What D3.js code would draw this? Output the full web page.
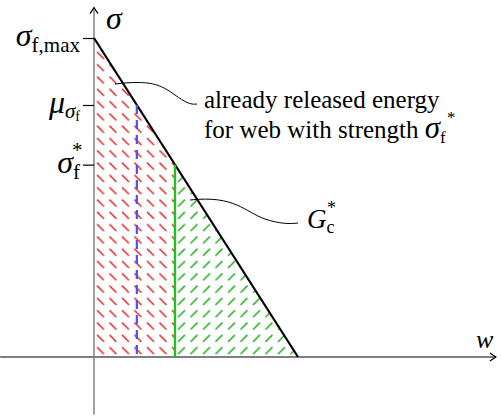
<!DOCTYPE html>
<html>
<head>
<meta charset="utf-8">
<script src="https://cdn.jsdelivr.net/npm/d3@7"></script>
</head>
<body style="margin:0; background:#fff">
<svg width="502" height="416"></svg>
<script>
// data: stress vs. opening, linear softening
var sigmaMax = 1.0;
var wCrit = 1.0;
var muSigma = 0.79;     // mean strength
var sigmaStar = 0.603;  // strength of this web
var softening = [ { w: 0, s: sigmaMax }, { w: wCrit, s: 0 } ];

var svg = d3.select("svg");
var serif = "'Liberation Serif'";

var x = d3.scaleLinear().domain([0, 1]).range([94, 298]);
var y = d3.scaleLinear().domain([0, 1]).range([357, 38]);

function sigmaAt(w) { return sigmaMax * (1 - w / wCrit); }
function wAt(s) { return wCrit * (1 - s / sigmaMax); }

var wMu = wAt(muSigma), wStar = wAt(sigmaStar);

// hatch patterns
var defs = svg.append("defs");
var pr = defs.append("pattern").attr("id", "hatchRed")
  .attr("patternUnits", "userSpaceOnUse").attr("width", 12.5).attr("height", 12.3)
  .attr("x", 94).attr("y", 357);
pr.append("line").attr("x1", 3).attr("y1", 2.5).attr("x2", 10).attr("y2", 9.5)
  .attr("stroke", "#e02a2a").attr("stroke-width", 1.5);
var pg = defs.append("pattern").attr("id", "hatchGreen")
  .attr("patternUnits", "userSpaceOnUse").attr("width", 12.5).attr("height", 12.3)
  .attr("x", 175).attr("y", 357);
pg.append("line").attr("x1", 3).attr("y1", 9.5).attr("x2", 10).attr("y2", 2.5)
  .attr("stroke", "#1fae1f").attr("stroke-width", 1.5);

var area = d3.area().x(function(d) { return x(d.w); })
  .y0(y(0)).y1(function(d) { return y(sigmaAt(d.w)); });

svg.append("path").datum([{ w: 0 }, { w: wStar }])
  .attr("d", area).attr("fill", "url(#hatchRed)");
svg.append("path").datum([{ w: wStar }, { w: wCrit }])
  .attr("d", area).attr("fill", "url(#hatchGreen)");

// axes
svg.append("line").attr("x1", x(-0.46)).attr("x2", x(1.97))
  .attr("y1", y(0)).attr("y2", y(0))
  .attr("stroke", "#000").attr("stroke-width", 1.2);
svg.append("path").attr("d", "M" + (x(1.97) - 6) + "," + (y(0) - 4) + " L" + x(1.97) + "," + y(0) + " L" + (x(1.97) - 6) + "," + (y(0) + 4))
  .attr("fill", "none").attr("stroke", "#000").attr("stroke-width", 1.2);

svg.append("line").attr("x1", x(0)).attr("x2", x(0))
  .attr("y1", y(-0.18)).attr("y2", y(1.095))
  .attr("stroke", "#777").attr("stroke-width", 1.4);
svg.append("path").attr("d", "M" + (x(0) - 4) + "," + (y(1.095) + 6) + " L" + x(0) + "," + y(1.095) + " L" + (x(0) + 4) + "," + (y(1.095) + 6))
  .attr("fill", "none").attr("stroke", "#000").attr("stroke-width", 1.2);

var yAxis = d3.axisLeft(y).tickValues([sigmaMax, muSigma, sigmaStar])
  .tickSize(11).tickSizeOuter(0).tickFormat("");
var gy = svg.append("g").attr("transform", "translate(" + x(0) + ",0)").call(yAxis);
gy.select(".domain").remove();
gy.selectAll(".tick line").attr("stroke", "#000").attr("stroke-width", 1.2);

// tick labels
function label(yy, main, sub) {
  var t = svg.append("text").attr("x", 80).attr("y", yy + 8)
    .style("font-family", serif).attr("text-anchor", "end").attr("font-size", 32);
  t.append("tspan").attr("font-style", "italic").text(main);
  t.append("tspan").attr("font-size", 21).attr("dy", 6).text(sub);
  return t;
}
label(y(sigmaMax), "σ", "f,max");
var tm = svg.append("text").attr("x", 80).attr("y", y(muSigma) + 8)
  .style("font-family", serif).attr("text-anchor", "end").attr("font-size", 32);
tm.append("tspan").attr("font-style", "italic").text("μ");
tm.append("tspan").attr("font-style", "italic").attr("font-size", 21).attr("dy", 5).text("σ");
tm.append("tspan").attr("font-size", 14).attr("dy", 3).text("f");
label(y(sigmaStar), "σ", "f");
svg.append("text").attr("x", 72).attr("y", y(sigmaStar) - 8)
  .style("font-family", serif).attr("font-size", 21).text("*");

// axis labels
svg.append("text").attr("x", 106).attr("y", 29).attr("font-size", 32)
  .style("font-family", serif).attr("font-style", "italic").text("σ");
svg.append("text").attr("x", 476).attr("y", 348).attr("font-size", 26)
  .style("font-family", serif).attr("font-style", "italic").text("w");

// softening line
var line = d3.line().x(function(d) { return x(d.w); }).y(function(d) { return y(d.s); });
svg.append("path").datum(softening).attr("d", line)
  .attr("fill", "none").attr("stroke", "#000").attr("stroke-width", 2.2);

// mean strength (dashed blue) and this web (green)
svg.append("line").attr("x1", x(wMu)).attr("x2", x(wMu))
  .attr("y1", y(muSigma)).attr("y2", y(0))
  .attr("stroke", "#5050f0").attr("stroke-width", 2.2).attr("stroke-dasharray", "9,6");
svg.append("line").attr("x1", x(wStar)).attr("x2", x(wStar))
  .attr("y1", y(sigmaStar)).attr("y2", y(0))
  .attr("stroke", "#22c022").attr("stroke-width", 2.4);

// annotations
var curve1 = "M115,84 C150,80 160,84 175,95 C185,102 190,105 197,104";
svg.append("path").attr("d", curve1).attr("fill", "none").attr("stroke", "#000").attr("stroke-width", 1);
var curve2 = "M190,200 C235,195 245,212 265,219 C280,224 290,224 298,223";
svg.append("path").attr("d", curve2).attr("fill", "none").attr("stroke", "#000").attr("stroke-width", 1);

svg.append("text").attr("x", 204).attr("y", 108).style("font-family", serif)
  .attr("font-size", 25).text("already released energy");
var t2 = svg.append("text").attr("x", 204).attr("y", 138).style("font-family", serif).attr("font-size", 25);
t2.append("tspan").text("for web with strength ");
t2.append("tspan").attr("font-style", "italic").attr("font-size", 31).text("σ");
t2.append("tspan").attr("font-size", 17).attr("dy", 5).text("f");
svg.append("text").attr("x", 447).attr("y", 123).style("font-family", serif)
  .attr("font-size", 17).text("*");

var t3 = svg.append("text").attr("x", 307).attr("y", 228).style("font-family", serif).attr("font-size", 27);
t3.append("tspan").attr("font-style", "italic").text("G");
t3.append("tspan").attr("font-size", 18).attr("dy", 5).text("c");
svg.append("text").attr("x", 327).attr("y", 214).style("font-family", serif)
  .attr("font-size", 18).text("*");
</script>
</body>
</html>
